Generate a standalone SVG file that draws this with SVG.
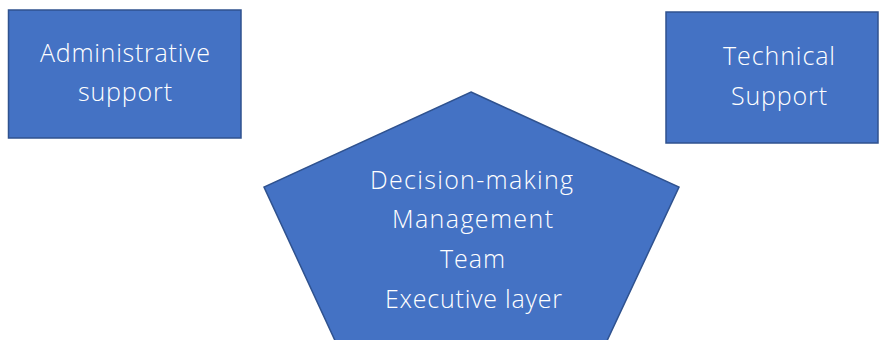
<svg xmlns="http://www.w3.org/2000/svg" width="880" height="340" viewBox="0 0 880 340">
<style>
.shape{fill:#4472C4;stroke:#2F528F;stroke-width:1.5}
.t{font-family:"Open Sans","Noto Sans","Liberation Sans",sans-serif;font-size:25px;font-weight:300;fill:#FFFFFF;text-anchor:middle}
</style>
<rect width="880" height="340" fill="#FFFFFF"/>
<g id="admin">
<rect class="shape" x="8.5" y="10" width="232.5" height="128"/>
<text class="t" x="125" y="62" textLength="170" lengthAdjust="spacing">Administrative</text>
<text class="t" x="125" y="101" textLength="94" lengthAdjust="spacing">support</text>
</g>
<g id="tech">
<rect class="shape" x="666" y="12" width="212" height="131"/>
<text class="t" x="779" y="65" textLength="112" lengthAdjust="spacing">Technical</text>
<text class="t" x="779" y="105" textLength="96" lengthAdjust="spacing">Support</text>
</g>
<g id="core">
<polygon class="shape" points="471,92 679,187 598,360 344,360 264,187"/>
<text class="t" x="471.5" y="189" textLength="203" lengthAdjust="spacing">Decision-making</text>
<text class="t" x="472.5" y="228" textLength="161" lengthAdjust="spacing">Management</text>
<text class="t" x="472.5" y="268" textLength="65" lengthAdjust="spacing">Team</text>
<text class="t" x="473.5" y="308" textLength="177" lengthAdjust="spacing">Executive layer</text>
</g>
<g id="connectors"></g>
</svg>
